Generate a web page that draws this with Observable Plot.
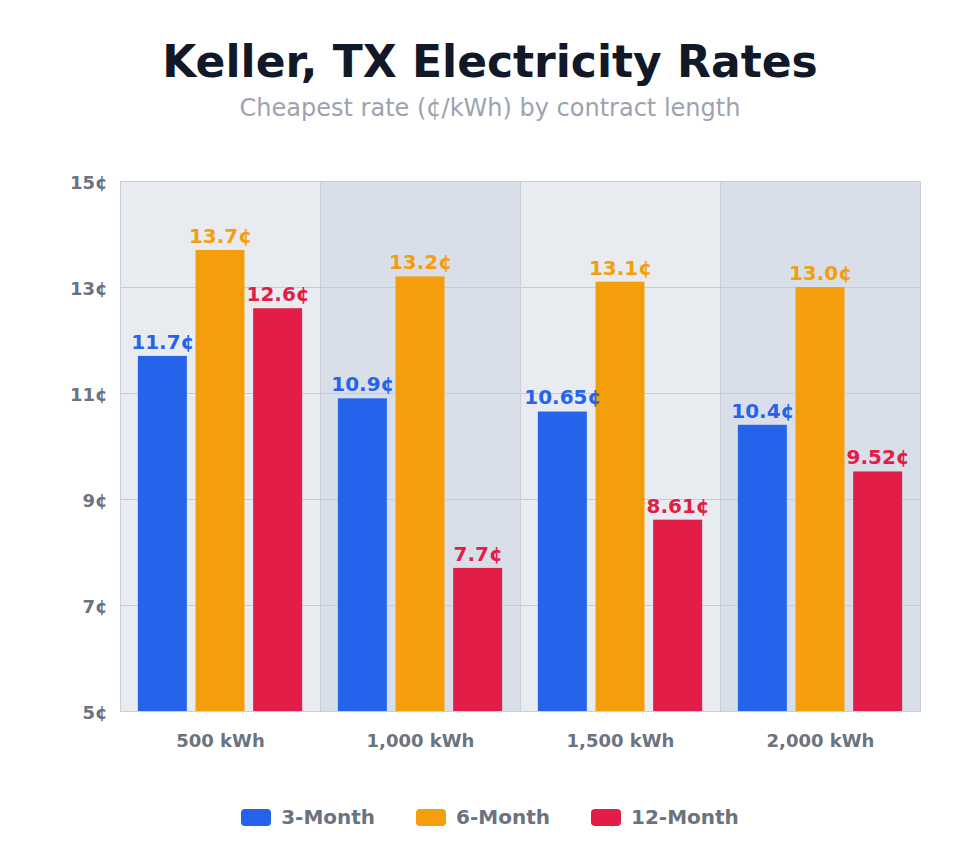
<!DOCTYPE html>
<html>
<head>
<meta charset="utf-8">
<script src="https://cdn.jsdelivr.net/npm/d3@7"></script>
<script src="https://cdn.jsdelivr.net/npm/@observablehq/plot@0.6"></script>
<style>
  html, body { margin: 0; padding: 0; background: #ffffff; }
  body { width: 980px; font-family: "DejaVu Sans", sans-serif; }
  #title { padding-top: 40px; font-size: 44px; line-height: 44px; font-weight: bold; color: #111827; text-align: center; }
  #subtitle { margin-top: 10px; font-size: 24px; line-height: 28px; color: #9ca3af; text-align: center; height: 28px; }
  #chart { margin-top: 8px; height: 641px; }
  #chart svg { display: block; }
  #legend { display: flex; justify-content: center; align-items: center; gap: 41px; margin-top: 34px; font-size: 20px; font-weight: bold; color: #6b7280; }
  .item { display: flex; align-items: center; gap: 10px; }
  .sw { width: 30px; height: 17px; border-radius: 4px; display: inline-block; }
</style>
</head>
<body>
<div id="title">Keller, TX Electricity Rates</div>
<div id="subtitle">Cheapest rate (¢/kWh) by contract length</div>
<div id="chart"></div>
<div id="legend"></div>
<script>
const categories = ["500 kWh", "1,000 kWh", "1,500 kWh", "2,000 kWh"];
const series = ["3-Month", "6-Month", "12-Month"];
const colors = ["#2563eb", "#f59e0b", "#e11d48"];
const threeMonth = [11.7, 10.9, 10.65, 10.4];
const sixMonth = [13.7, 13.2, 13.1, 13.0];
const twelveMonth = [12.6, 7.7, 8.61, 9.52];
const threeMonthLabels = ["11.7¢", "10.9¢", "10.65¢", "10.4¢"];
const sixMonthLabels = ["13.7¢", "13.2¢", "13.1¢", "13.0¢"];
const twelveMonthLabels = ["12.6¢", "7.7¢", "8.61¢", "9.52¢"];
const yTicks = [5, 7, 9, 11, 13, 15];

const seriesValues = [threeMonth, sixMonth, twelveMonth];
const seriesLabels = [threeMonthLabels, sixMonthLabels, twelveMonthLabels];
const rows = [];
categories.forEach((c, ci) => {
  series.forEach((s, si) => {
    rows.push({category: c, series: s, value: seriesValues[si][ci], label: seriesLabels[si][ci]});
  });
});

const evenCats = categories.filter((c, i) => i % 2 === 0);
const oddCats = categories.filter((c, i) => i % 2 === 1);

const chart = Plot.plot({
  width: 980,
  height: 641,
  marginLeft: 120,
  marginRight: 60,
  marginTop: 51,
  marginBottom: 60,
  style: {fontFamily: "DejaVu Sans, sans-serif", background: "transparent"},
  fx: {domain: categories, padding: 0, label: null, round: false},
  x: {domain: series, paddingInner: 0.15, paddingOuter: 0.31, round: false, axis: null},
  y: {domain: [5, 15], label: null},
  color: {domain: series, range: colors},
  marks: [
    Plot.barY(evenCats, {fx: d => d, y1: 5, y2: 15, fill: "#e8ebf0", insetLeft: 0, insetRight: 0}),
    Plot.barY(oddCats, {fx: d => d, y1: 5, y2: 15, fill: "#d9dfe8", insetLeft: 0, insetRight: 0}),
    Plot.gridY(yTicks, {stroke: "#c6cbd5", strokeOpacity: 1}),
    Plot.barY(rows, {fx: "category", x: "series", y1: 5, y2: "value", fill: "series", insetLeft: 0, insetRight: 0}),
    Plot.text(rows, {fx: "category", x: "series", y: "value", text: "label", fill: "series", dy: -14, fontSize: 20, fontWeight: "bold"}),
    Plot.frame({stroke: "#c9ced8"}),
    Plot.axisY(yTicks, {tickSize: 0, tickPadding: 13, dy: 2, tickFormat: d => d + "¢", fontSize: 18, fontWeight: "bold", fill: "#6b7280", label: null}),
    Plot.axisFx({anchor: "bottom", tickSize: 0, tickPadding: 23, fontSize: 18, fontWeight: "bold", fill: "#6b7280", label: null})
  ]
});
document.getElementById("chart").appendChild(chart);

const legend = document.getElementById("legend");
series.forEach((s, i) => {
  const item = document.createElement("div");
  item.className = "item";
  const sw = document.createElement("span");
  sw.className = "sw";
  sw.style.background = colors[i];
  const t = document.createElement("span");
  t.textContent = s;
  item.appendChild(sw);
  item.appendChild(t);
  legend.appendChild(item);
});
</script>
</body>
</html>
